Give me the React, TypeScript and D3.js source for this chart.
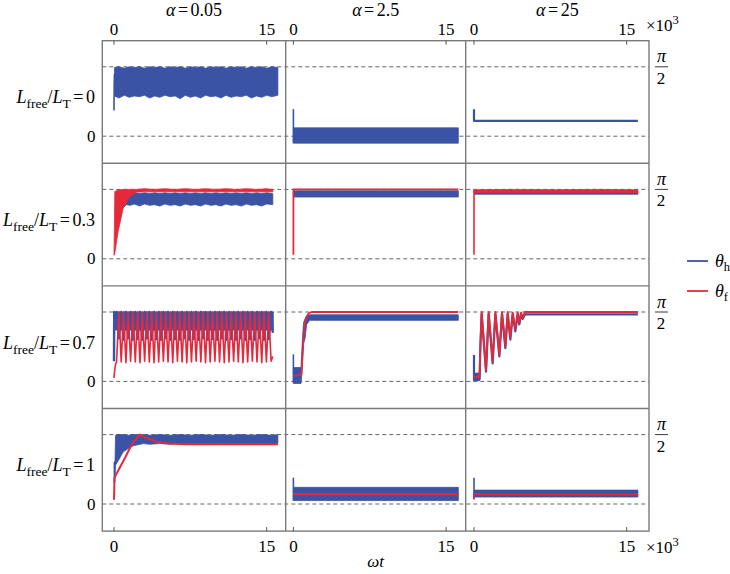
import React from "react";
import * as d3 from "d3";

// ---------- labels ----------
const ALPHA_LABELS = ["0.05", "2.5", "25"];
const L_LABELS = ["0", "0.3", "0.7", "1"];
const T_TICKS = [0, 15];
const LEGEND = [
  { sym: "θ", sub: "h", key: "h" },
  { sym: "θ", sub: "f", key: "f" },
];

// ---------- data: t in 10^3 ωt, θ in units of π/2 ----------
// Row 1: L_free/L_T = 0
const r1c1_hBand = [[0.05,0.58,0.99],[0.5,0.55,1.0],[1.0,0.59,0.98],[1.5,0.56,1.0],[2.0,0.58,0.99],[2.5,0.57,1.0],[3.0,0.59,0.98],[3.5,0.55,1.0],[4.0,0.58,0.99],[4.5,0.56,1.0],[5.0,0.59,0.98],[5.5,0.57,1.0],[6.0,0.58,0.99],[6.5,0.54,1.0],[7.0,0.59,0.98],[7.5,0.56,1.0],[8.0,0.58,0.99],[8.5,0.55,1.0],[9.0,0.59,0.98],[9.5,0.57,1.0],[10.0,0.58,0.99],[10.5,0.55,1.0],[11.0,0.59,0.98],[11.5,0.56,1.0],[12.0,0.58,0.99],[12.5,0.57,1.0],[13.0,0.59,0.98],[13.5,0.55,1.0],[14.0,0.58,0.99],[14.5,0.56,1.0],[15.0,0.59,0.98],[15.5,0.57,1.0],[16.1,0.59,0.99]];
const r1c1_hStart = [[0,0.37],[0.02,0.75],[0.05,0.9]];
const r1c2_hSpike = [[0,0.39],[0,-0.1]];
const r1c2_hBand = [[0,-0.1,0.12],[16.2,-0.1,0.12]];
const r1c3_h = [[0,0.39],[0,0.22],[16.1,0.22]];

// Row 2: L_free/L_T = 0.3
const r2c1_hBand = [[0.4,0.55,0.93],[0.8,0.72,0.94],[1.2,0.78,0.95],[1.6,0.77,0.94],[2.0,0.79,0.95],[2.5,0.76,0.94],[3.0,0.79,0.95],[3.5,0.77,0.94],[4.0,0.78,0.95],[4.5,0.76,0.94],[5.0,0.79,0.95],[5.5,0.77,0.94],[6.0,0.78,0.95],[6.5,0.76,0.94],[7.0,0.79,0.95],[7.5,0.77,0.94],[8.0,0.78,0.95],[8.5,0.76,0.94],[9.0,0.79,0.95],[9.5,0.77,0.94],[10.0,0.78,0.95],[10.5,0.76,0.94],[11.0,0.79,0.95],[11.5,0.77,0.94],[12.0,0.78,0.95],[12.5,0.76,0.94],[13.0,0.79,0.95],[13.5,0.77,0.94],[14.0,0.78,0.95],[14.5,0.76,0.94],[15.0,0.79,0.95],[15.6,0.78,0.94]];
const r2c1_fBand = [[0,0.05,0.06],[0.08,0.08,0.97],[0.4,0.39,0.99],[0.9,0.73,1.0],[1.5,0.89,1.0],[2.2,0.96,1.0],[3.0,0.965,1.01],[4.0,0.965,1.0],[5.0,0.965,1.01],[6.0,0.965,1.0],[7.0,0.965,1.01],[8.0,0.965,1.0],[9.0,0.965,1.01],[10.0,0.965,1.0],[11.0,0.965,1.01],[12.0,0.965,1.0],[13.0,0.965,1.01],[14.0,0.965,1.0],[15.0,0.965,1.01],[15.6,0.965,1.0]];
const r2c2_hBand = [[0,0.89,0.98],[16.2,0.89,0.98]];
const r2c2_f = [[0,0.06],[0,1.0],[16.2,1.0]];
const r2c3_hBand = [[0.05,0.93,0.965],[16.1,0.93,0.965]];
const r2c3_fSpike = [[0,0.06],[0,0.99]];
const r2c3_fBand = [[0,0.955,0.995],[4,0.955,1.0],[8,0.955,0.995],[12,0.955,1.0],[16.1,0.955,0.995]];

// Row 3: L_free/L_T = 0.7
const r3c1_t = [0,0.02,0.15,0.25,0.48,0.71,0.94,1.17,1.40,1.63,1.86,2.09,2.32,2.55,2.78,3.01,3.24,3.47,3.70,3.93,4.16,4.39,4.62,4.85,5.08,5.31,5.54,5.77,6.00,6.23,6.46,6.69,6.92,7.15,7.38,7.61,7.84,8.07,8.30,8.53,8.76,8.99,9.22,9.45,9.68,9.91,10.14,10.37,10.60,10.83,11.06,11.29,11.52,11.75,11.98,12.21,12.44,12.67,12.90,13.13,13.36,13.59,13.82,14.05,14.28,14.51,14.74,14.97,15.20,15.43,15.6];
const r3c1_f = [0.05,0.1,0.25,0.28,1.0,0.28,1.0,0.27,1.0,0.29,1.0,0.28,1.0,0.27,1.0,0.29,1.0,0.28,1.0,0.27,1.0,0.28,1.0,0.29,1.0,0.28,1.0,0.27,1.0,0.29,1.0,0.28,1.0,0.27,1.0,0.28,1.0,0.29,1.0,0.28,1.0,0.27,1.0,0.28,1.0,0.29,1.0,0.28,1.0,0.27,1.0,0.28,1.0,0.29,1.0,0.28,1.0,0.27,1.0,0.28,1.0,0.29,1.0,0.28,1.0,0.27,1.0,0.28,1.0,0.29,0.36];
const r3c1_h = [0.29,1.0,0.8,1.0,0.62,1.0,0.6,1.0,0.62,1.0,0.6,1.0,0.61,1.0,0.6,1.0,0.62,1.0,0.6,1.0,0.61,1.0,0.6,1.0,0.62,1.0,0.6,1.0,0.61,1.0,0.6,1.0,0.62,1.0,0.6,1.0,0.61,1.0,0.6,1.0,0.62,1.0,0.6,1.0,0.61,1.0,0.6,1.0,0.62,1.0,0.6,1.0,0.61,1.0,0.6,1.0,0.62,1.0,0.6,1.0,0.61,1.0,0.6,1.0,0.62,1.0,0.6,1.0,0.61,1.0,0.7];
const r3c1_hBand = [[0.02,0.74,1.0],[15.65,0.74,1.0]];
const r3c2_hSpike = [[0,0.39],[0,-0.02]];
const r3c2_hBand = [[0,-0.03,0.2],[0.75,-0.03,0.2],[0.8,0.05,0.35],[0.9,0.35,0.65],[1.0,0.55,0.85],[1.15,0.62,0.9],[1.3,0.82,0.95],[1.6,0.88,0.96],[16.2,0.88,0.96]];
const r3c2_f = [[0,0.08],[0.8,0.1],[0.95,0.5],[1.05,0.75],[1.2,0.9],[1.5,0.98],[1.8,1.0],[16.2,1.0]];
const r3c3_hLow = [[0,0.01,0.12],[0.55,0.01,0.12]];
const r3c3_h = [[0,0.38],[0,0.02],[0.55,0.03],[0.62,0.46],[0.75,0.97],[1.18,0.14],[1.44,0.97],[1.83,0.26],[2.1,0.97],[2.49,0.36],[2.75,0.97],[3.08,0.48],[3.31,0.97],[3.57,0.6],[3.8,0.97],[4.06,0.72],[4.29,0.97],[4.45,0.82],[4.62,0.97],[4.78,0.9],[5.0,0.965],[16.1,0.965]];
const r3c3_f = [[0,0.06],[0.55,0.07],[0.62,0.5],[0.75,1.0],[1.18,0.17],[1.44,1.0],[1.83,0.29],[2.1,1.0],[2.49,0.39],[2.75,1.0],[3.08,0.51],[3.31,1.0],[3.57,0.63],[3.8,0.99],[4.06,0.75],[4.29,0.99],[4.45,0.85],[4.62,0.99],[4.78,0.92],[5.0,1.0],[16.1,1.0]];

// Row 4: L_free/L_T = 1
const r4c1_hBand = [[0,0.3,0.6],[0.1,0.32,0.62],[0.15,0.56,0.99],[0.4,0.62,1.0],[0.9,0.75,1.0],[1.4,0.8,0.99],[1.9,0.84,1.0],[2.9,0.87,1.0],[3.5,0.86,0.99],[4.5,0.87,1.0],[5.5,0.86,0.99],[6.5,0.87,1.0],[7.5,0.86,0.99],[8.5,0.87,1.0],[9.5,0.86,0.99],[10.5,0.87,1.0],[11.5,0.86,0.99],[12.5,0.87,1.0],[13.5,0.86,0.99],[14.5,0.87,1.0],[15.5,0.86,0.99],[16.1,0.87,1.0]];
const r4c1_f = [[0,0.06],[0.05,0.38],[0.4,0.48],[1.1,0.67],[1.75,0.86],[2.5,1.0],[3.1,0.96],[4.1,0.9],[5.5,0.87],[7.0,0.86],[16.1,0.86]];
const r4c2_hSpike = [[0,0.38],[0,0.05]];
const r4c2_hBand = [[0,0.05,0.24],[16.2,0.05,0.24]];
const r4c2_f = [[0,0.14],[16.2,0.14]];
const r4c3_hSpike = [[0,0.38],[0,0.07]];
const r4c3_hBand = [[0,0.1,0.2],[16.1,0.1,0.2]];
const r4c3_f = [[0,0.07],[0,0.14],[16.1,0.14]];

// ---------- style ----------
const BLUE = "#3a53a4";
const RED = "#e5293b";
const FRAME = "#7a7a7a";
const FONT = '"Liberation Serif", "Times New Roman", Times, serif';
const FS = 17;
const SUB = 12.5;
const LFS = 18;
const LSUB = 13.5;

const COL_EDGES = [102.3, 285.7, 465.7, 649];
const X0 = [114, 293.4, 474];
const PX_PER_K = 10.18;
const ROW_TOP0 = 40.7;
const ROW_H = 122.6;
const ZERO_OFF = 95.5;
const UNIT = 69.4;

type S = { kind: "band" | "line"; data: number[][]; color: string; w?: number };
const zip = (t: number[], v: number[]) => t.map((d, i) => [d, v[i]]);

const PANELS: S[][][] = [
  [
    [{ kind: "band", data: r1c1_hBand, color: BLUE }, { kind: "line", data: r1c1_hStart, color: BLUE, w: 1.6 }],
    [{ kind: "band", data: r1c2_hBand, color: BLUE }, { kind: "line", data: r1c2_hSpike, color: BLUE, w: 1.6 }],
    [{ kind: "line", data: r1c3_h, color: BLUE, w: 2.2 }],
  ],
  [
    [{ kind: "band", data: r2c1_hBand, color: BLUE }, { kind: "band", data: r2c1_fBand, color: RED }],
    [{ kind: "band", data: r2c2_hBand, color: BLUE }, { kind: "line", data: r2c2_f, color: RED, w: 1.8 }],
    [{ kind: "band", data: r2c3_hBand, color: BLUE }, { kind: "band", data: r2c3_fBand, color: RED }, { kind: "line", data: r2c3_fSpike, color: RED, w: 1.6 }],
  ],
  [
    [{ kind: "band", data: r3c1_hBand, color: BLUE }, { kind: "line", data: zip(r3c1_t, r3c1_h), color: BLUE, w: 2.4 }, { kind: "line", data: zip(r3c1_t, r3c1_f), color: RED, w: 1.6 }],
    [{ kind: "band", data: r3c2_hBand, color: BLUE }, { kind: "line", data: r3c2_hSpike, color: BLUE, w: 1.6 }, { kind: "line", data: r3c2_f, color: RED, w: 1.8 }],
    [{ kind: "band", data: r3c3_hLow, color: BLUE }, { kind: "line", data: r3c3_h, color: BLUE, w: 2.2 }, { kind: "line", data: r3c3_f, color: RED, w: 1.9 }],
  ],
  [
    [{ kind: "band", data: r4c1_hBand, color: BLUE }, { kind: "line", data: r4c1_f, color: RED, w: 2 }],
    [{ kind: "band", data: r4c2_hBand, color: BLUE }, { kind: "line", data: r4c2_hSpike, color: BLUE, w: 1.6 }, { kind: "line", data: r4c2_f, color: RED, w: 2 }],
    [{ kind: "band", data: r4c3_hBand, color: BLUE }, { kind: "line", data: r4c3_hSpike, color: BLUE, w: 1.6 }, { kind: "line", data: r4c3_f, color: RED, w: 1.8 }],
  ],
];

export default function App() {
  const xScales = X0.map((x0) => d3.scaleLinear().domain([0, 15]).range([x0, x0 + 15 * PX_PER_K]));
  const rowTop = (r: number) => ROW_TOP0 + r * ROW_H;
  const yScales = [0, 1, 2, 3].map((r) =>
    d3.scaleLinear().domain([0, 1]).range([rowTop(r) + ZERO_OFF, rowTop(r) + ZERO_OFF - UNIT])
  );
  const left = COL_EDGES[0];
  const right = COL_EDGES[3];
  const top = rowTop(0);
  const bottom = rowTop(4);
  const tf = { fontFamily: FONT };

  return (
    <svg
      width={730}
      height={574}
      style={{ position: "absolute", left: 0, top: 0, background: "#fff", fontFamily: FONT }}
    >
      {/* dashed reference lines */}
      {[0, 1, 2, 3].map((r) =>
        [0, 1].map((v) => (
          <line
            key={`d${r}-${v}`}
            x1={left}
            x2={right}
            y1={yScales[r](v)}
            y2={yScales[r](v)}
            stroke="#555"
            strokeWidth={0.9}
            strokeDasharray="4 3"
          />
        ))
      )}

      {/* data */}
      {PANELS.map((row, r) =>
        row.map((series, c) => {
          const xs = xScales[c];
          const ys = yScales[r];
          const area = d3.area<number[]>().x((d) => xs(d[0])).y0((d) => ys(d[1])).y1((d) => ys(d[2]));
          const line = d3.line<number[]>().x((d) => xs(d[0])).y((d) => ys(d[1]));
          return (
            <g key={`p${r}-${c}`}>
              {series.map((s, i) =>
                s.kind === "band" ? (
                  <path key={i} d={area(s.data) || ""} fill={s.color} stroke={s.color} strokeWidth={0.8} />
                ) : (
                  <path
                    key={i}
                    d={line(s.data) || ""}
                    fill="none"
                    stroke={s.color}
                    strokeWidth={s.w || 1.5}
                    strokeLinejoin="round"
                  />
                )
              )}
            </g>
          );
        })
      )}

      {/* frame */}
      <rect x={left} y={top} width={right - left} height={bottom - top} fill="none" stroke={FRAME} strokeWidth={1.4} />
      {[1, 2].map((c) => (
        <line key={`vc${c}`} x1={COL_EDGES[c]} x2={COL_EDGES[c]} y1={top} y2={bottom} stroke={FRAME} strokeWidth={1.4} />
      ))}
      {[1, 2, 3].map((r) => (
        <line key={`hr${r}`} x1={left} x2={right} y1={rowTop(r)} y2={rowTop(r)} stroke={FRAME} strokeWidth={1.4} />
      ))}

      {/* ticks and tick labels */}
      {xScales.map((xs, c) =>
        T_TICKS.map((t) => (
          <g key={`t${c}-${t}`}>
            <line x1={xs(t)} x2={xs(t)} y1={top} y2={top + 4} stroke="#555" strokeWidth={1} />
            <line x1={xs(t)} x2={xs(t)} y1={bottom} y2={bottom - 4} stroke="#555" strokeWidth={1} />
            <text style={tf} x={xs(t)} y={35} textAnchor="middle" fontSize={FS}>{t}</text>
            <text style={tf} x={xs(t)} y={551.5} textAnchor="middle" fontSize={FS}>{t}</text>
          </g>
        ))
      )}
      <text style={tf} x={646} y={31} fontSize={FS}>
        ×10<tspan fontSize={SUB} dy={-7}>3</tspan>
      </text>
      <text style={tf} x={646} y={553} fontSize={FS}>
        ×10<tspan fontSize={SUB} dy={-7}>3</tspan>
      </text>
      <text style={tf} x={375.5} y={567} textAnchor="middle" fontSize={FS} fontStyle="italic">ωt</text>

      {/* column titles */}
      {ALPHA_LABELS.map((a, c) => (
        <text style={tf} key={`a${c}`} x={(COL_EDGES[c] + COL_EDGES[c + 1]) / 2} y={15.5} textAnchor="middle" fontSize={LFS}>
          <tspan fontStyle="italic">α</tspan>
          <tspan dx={2.5}>=</tspan>
          <tspan dx={2.5}>{a}</tspan>
        </text>
      ))}

      {/* row labels */}
      {L_LABELS.map((l, r) => (
        <g key={`l${r}`}>
          <text style={tf} x={95} y={rowTop(r) + 62.6} textAnchor="end" fontSize={LFS}>
            <tspan fontStyle="italic">L</tspan>
            <tspan fontSize={LSUB} dy={5}>free</tspan>
            <tspan dy={-5}>/</tspan>
            <tspan fontStyle="italic">L</tspan>
            <tspan fontSize={LSUB} dy={5}>T</tspan>
            <tspan dy={-5} dx={2.5}>=</tspan>
            <tspan dx={2.5}>{l}</tspan>
          </text>
          <text style={tf} x={95.5} y={yScales[r](0) + 5.5} textAnchor="end" fontSize={FS}>0</text>
          <text style={tf} x={661.5} y={yScales[r](1) - 4.5} textAnchor="middle" fontSize={LFS} fontStyle="italic">π</text>
          <line x1={655} x2={668} y1={yScales[r](1)} y2={yScales[r](1)} stroke="#222" strokeWidth={0.9} />
          <text style={tf} x={661} y={yScales[r](1) + 17} textAnchor="middle" fontSize={FS}>2</text>
        </g>
      ))}

      {/* legend */}
      {LEGEND.map((e, i) => {
        const y = 261 + i * 30;
        return (
          <g key={e.key}>
            <line x1={687} x2={708} y1={y} y2={y} stroke={e.key === "h" ? BLUE : RED} strokeWidth={1.8} />
            <text style={tf} x={715} y={y + 6} fontSize={LFS}>
              <tspan fontStyle="italic">{e.sym}</tspan>
              <tspan fontSize={SUB} dy={3.5}>{e.sub}</tspan>
            </text>
          </g>
        );
      })}
    </svg>
  );
}
